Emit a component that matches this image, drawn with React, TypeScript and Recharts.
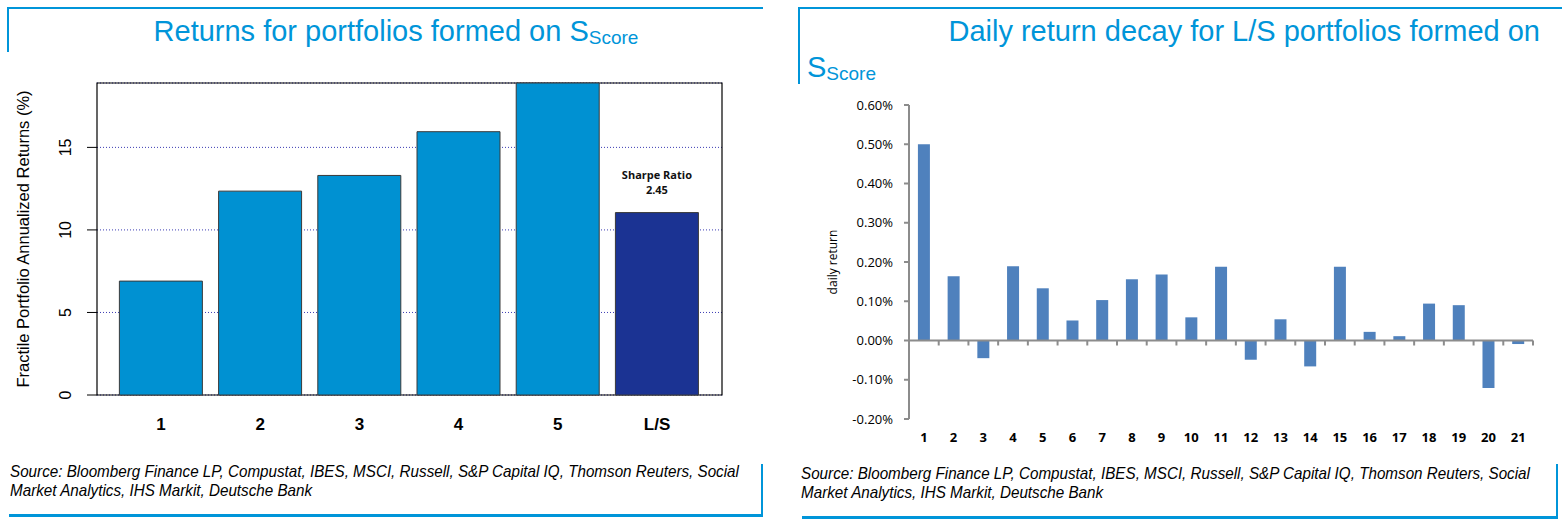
import React from 'react';
import {
  BarChart,
  Bar,
  XAxis,
  YAxis,
  CartesianGrid,
  Cell,
  LabelList,
  ReferenceLine,
  ReferenceArea,
} from 'recharts';

// left panel: fractile portfolio returns
const fractiles = ['1', '2', '3', '4', '5', 'L/S'];
const annualizedReturns = [6.9, 12.35, 13.3, 15.95, 18.9, 11.05];
const returnTicks = [0, 5, 10, 15];
const returnMax = 18.9;
const sharpeRatio = '2.45';

// right panel: daily return decay of the L/S portfolio (in %)
const decayDays = ['1', '2', '3', '4', '5', '6', '7', '8', '9', '10', '11', '12', '13', '14', '15', '16', '17', '18', '19', '20', '21'];
const dailyReturns = [0.5, 0.164, -0.045, 0.189, 0.133, 0.051, 0.103, 0.156, 0.168, 0.059, 0.188, -0.049, 0.054, -0.066, 0.188, 0.022, 0.011, 0.094, 0.09, -0.121, -0.009];
const decayTicks = [-0.2, -0.1, 0, 0.1, 0.2, 0.3, 0.4, 0.5, 0.6];

const sourceLines = [
  'Source: Bloomberg Finance LP, Compustat, IBES, MSCI, Russell, S&P Capital IQ, Thomson Reuters, Social',
  'Market Analytics, IHS Markit, Deutsche Bank',
];

const BLUE = '#0095d9';
const SANS = "'Liberation Sans', Arial, sans-serif";

// bar positions 1..6 on a numeric axis, like R's barplot box with extra room at the ends
const leftData = fractiles.map((name, i) => ({ pos: i + 1, name, value: annualizedReturns[i] }));
const leftPositions = leftData.map((d) => d.pos);
const rightData = decayDays.map((day, i) => ({ day, value: dailyReturns[i] }));

function RotatedTick(props: any) {
  const { y, payload } = props;
  const bx = 71;
  return (
    <text x={bx} y={y} transform={`rotate(-90, ${bx}, ${y})`} textAnchor="middle" fontSize={16} fontFamily={SANS} fill="#000">
      {payload.value}
    </text>
  );
}

function SharpeLabel(props: any) {
  const { x, y, width, index } = props;
  if (index !== fractiles.length - 1) return null;
  const cx = x + width / 2;
  return (
    <g fontFamily="'Open Sans', sans-serif" fontSize={11} fontWeight={700} fill="#111" textAnchor="middle">
      <text x={cx} y={y - 34}>Sharpe Ratio</text>
      <text x={cx} y={y - 19}>{sharpeRatio}</text>
    </g>
  );
}

function ZeroAxis(props: any) {
  const { x1, x2, y1 } = props;
  const n = decayDays.length;
  const step = (x2 - x1) / n;
  return (
    <g stroke="#8c8c8c" strokeWidth={2}>
      <line x1={x1} x2={x2} y1={y1} y2={y1} />
      {decayDays.map((d, i) => (
        <line key={d} x1={x1 + step * (i + 1)} x2={x1 + step * (i + 1)} y1={y1} y2={y1 + 5} />
      ))}
    </g>
  );
}

function Source({ left, top }: { left: number; top: number }) {
  return (
    <div
      style={{
        position: 'absolute', left, top, whiteSpace: 'nowrap',
        fontFamily: SANS, fontStyle: 'italic', fontSize: 17, lineHeight: '19px', color: '#000',
        transform: 'scaleX(0.895)', transformOrigin: 'left top',
      }}
    >
      {sourceLines[0]}
      <br />
      {sourceLines[1]}
    </div>
  );
}

const titleStyle: React.CSSProperties = {
  position: 'absolute', fontFamily: SANS, fontSize: 29, color: BLUE, whiteSpace: 'nowrap',
};

function LeftPanel() {
  return (
    <div style={{ position: 'absolute', left: 0, top: 0, width: 790, height: 526 }}>
      <div style={{ position: 'absolute', left: 7, top: 7, width: 756, height: 2, background: BLUE }} />
      <div style={{ position: 'absolute', left: 7, top: 7, width: 2, height: 45, background: BLUE }} />
      <div style={{ ...titleStyle, left: 0, top: 15, width: 792, textAlign: 'center' }}>
        Returns for portfolios formed on S
        <span style={{ fontSize: 19, position: 'relative', top: 3 }}>Score</span>
      </div>

      <div style={{ position: 'absolute', left: 0, top: 0 }}>
        <BarChart width={780} height={526} data={leftData} margin={{ top: 83, right: 58, bottom: 91, left: 0 }} barCategoryGap={8}>
          <CartesianGrid vertical={false} stroke="#3b3bb3" strokeDasharray="1 2" />
          <XAxis
            dataKey="pos"
            type="number"
            domain={[0.355, 6.655]}
            ticks={leftPositions}
            tickFormatter={(v: number) => fractiles[v - 1]}
            tickLine={false}
            axisLine={false}
            tickSize={0}
            tickMargin={23}
            height={40}
            tick={{ fill: '#000', fontSize: 17, fontWeight: 700, fontFamily: SANS }}
          />
          <YAxis
            domain={[0, returnMax]}
            ticks={returnTicks}
            width={97}
            tickSize={10}
            tickLine={{ stroke: '#000' }}
            axisLine={false}
            tick={<RotatedTick />}
            label={{
              content: (p: any) => {
                const vb = p.viewBox;
                const cy = vb.y + vb.height / 2;
                const bx = 29;
                return (
                  <text x={bx} y={cy} transform={`rotate(-90, ${bx}, ${cy})`} textAnchor="middle" fontSize={16.5} fontFamily={SANS} fill="#000">
                    Fractile Portfolio Annualized Returns (%)
                  </text>
                );
              },
            }}
          />
          <Bar dataKey="value" isAnimationActive={false} stroke="#3a3a3a" strokeWidth={1}>
            {leftData.map((d, i) => (
              <Cell key={d.name} fill={i === leftData.length - 1 ? '#1b3393' : '#0091d2'} />
            ))}
            <LabelList dataKey="value" content={<SharpeLabel />} />
          </Bar>
          <ReferenceArea y1={0} y2={returnMax} fill="none" fillOpacity={0} stroke="#000" strokeWidth={1.2} ifOverflow="visible" />
        </BarChart>
      </div>

      <Source left={10} top={462} />
      <div style={{ position: 'absolute', left: 761, top: 464, width: 2, height: 53, background: BLUE }} />
      <div style={{ position: 'absolute', left: 9, top: 514, width: 754, height: 3, background: BLUE }} />
    </div>
  );
}

function RightPanel() {
  return (
    <div style={{ position: 'absolute', left: 790, top: 0, width: 772, height: 526 }}>
      <div style={{ position: 'absolute', left: 8, top: 7, width: 764, height: 2, background: BLUE }} />
      <div style={{ position: 'absolute', left: 8, top: 7, width: 2, height: 77, background: BLUE }} />
      <div style={{ ...titleStyle, right: 22, top: 15, textAlign: 'right' }}>
        Daily return decay for L/S portfolios formed on
      </div>
      <div style={{ ...titleStyle, left: 17, top: 51 }}>
        S<span style={{ fontSize: 19, position: 'relative', top: 3 }}>Score</span>
      </div>

      <div style={{ position: 'absolute', left: 7, top: 0 }}>
        <BarChart width={765} height={460} data={rightData} margin={{ top: 105, right: 29, bottom: 11, left: 0 }} barCategoryGap="30%">
          <XAxis
            dataKey="day"
            tickLine={false}
            axisLine={false}
            tickSize={0}
            tickMargin={14}
            height={30}
            tick={{ fill: '#000', fontSize: 13, fontWeight: 700, fontFamily: "'Open Sans', sans-serif" }}
          />
          <YAxis
            domain={[-0.2, 0.6]}
            ticks={decayTicks}
            width={112}
            tickSize={5}
            tickMargin={11}
            tickLine={{ stroke: '#8c8c8c', strokeWidth: 2 }}
            axisLine={{ stroke: '#8c8c8c', strokeWidth: 2 }}
            tickFormatter={(v: number) => `${v.toFixed(2)}%`}
            tick={{ fill: '#000', fontSize: 13, fontFamily: "'Open Sans', sans-serif" }}
            label={{
              content: (p: any) => {
                const vb = p.viewBox;
                const cy = vb.y + vb.height / 2;
                const bx = 40;
                return (
                  <text x={bx} y={cy} transform={`rotate(-90, ${bx}, ${cy})`} textAnchor="middle" fontSize={12} fontFamily="'Open Sans', sans-serif" fill="#000">
                    daily return
                  </text>
                );
              },
            }}
          />
          <Bar dataKey="value" fill="#4f81bd" isAnimationActive={false} />
          <ReferenceLine y={0} shape={<ZeroAxis />} />
        </BarChart>
      </div>

      <Source left={11} top={464} />
      <div style={{ position: 'absolute', left: 766, top: 464, width: 2, height: 55, background: BLUE }} />
      <div style={{ position: 'absolute', left: 12, top: 516, width: 756, height: 3, background: BLUE }} />
    </div>
  );
}

export default function App() {
  return (
    <div style={{ position: 'absolute', left: 0, top: 0, width: 1562, height: 526, background: '#fff', overflow: 'hidden' }}>
      <LeftPanel />
      <RightPanel />
    </div>
  );
}
